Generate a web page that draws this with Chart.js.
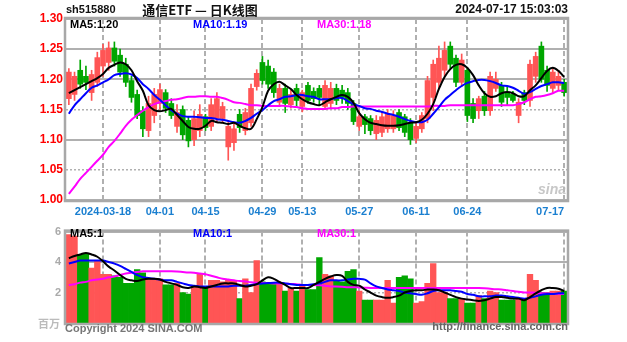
<!DOCTYPE html>
<html>
<head>
<meta charset="utf-8">
<script src="https://cdn.jsdelivr.net/npm/chart.js"></script>
<style>
  body { margin: 0; background: #fff; width: 627px; height: 342px; overflow: hidden; }
  #k-wrap { position: absolute; left: 0; top: 0; width: 627px; height: 220px; }
  #v-wrap { position: absolute; left: 0; top: 220px; width: 627px; height: 122px; }
</style>
</head>
<body>
<div id="k-wrap"><canvas id="k-chart" width="627" height="220"></canvas></div>
<div id="v-wrap"><canvas id="v-chart" width="627" height="122"></canvas></div>
<script>
// trading days 2024-03-08 .. 2024-07-17
var dates = [
  '03-08','03-11','03-12','03-13','03-14','03-15','03-18','03-19','03-20','03-21','03-22','03-25','03-26','03-27','03-28','03-29',
  '04-01','04-02','04-03','04-08','04-09','04-10','04-11','04-12','04-15','04-16','04-17','04-18','04-19','04-22','04-23','04-24','04-25','04-26','04-29','04-30',
  '05-06','05-07','05-08','05-09','05-10','05-13','05-14','05-15','05-16','05-17','05-20','05-21','05-22','05-23','05-24','05-27','05-28','05-29','05-30','05-31',
  '06-03','06-04','06-05','06-06','06-07','06-11','06-12','06-13','06-14','06-17','06-18','06-19','06-20','06-21','06-24','06-25','06-26','06-27','06-28',
  '07-01','07-02','07-03','07-04','07-05','07-08','07-09','07-10','07-11','07-12','07-15','07-16','07-17'
];
var shownDates = { '03-18': '2024-03-18', '04-01': '04-01', '04-15': '04-15', '04-29': '04-29', '05-13': '05-13',
                   '05-27': '05-27', '06-11': '06-11', '06-24': '06-24', '07-17': '07-17' };

var openP = [1.168,1.175,1.215,1.205,1.178,1.195,1.222,1.228,1.252,1.240,1.225,1.198,1.175,1.148,1.115,1.140,
  1.160,1.178,1.160,1.122,1.150,1.132,1.100,1.115,1.138,1.122,1.135,1.135,1.088,1.095,1.142,1.115,1.128,1.188,1.228,1.222,
  1.212,1.162,1.185,1.158,1.185,1.155,1.190,1.180,1.185,1.155,1.160,1.185,1.182,1.178,1.160,1.122,1.138,1.135,1.110,1.112,
  1.118,1.118,1.145,1.138,1.128,1.102,1.118,1.135,1.170,1.195,1.215,1.255,1.235,1.195,1.215,1.160,1.148,1.172,1.148,
  1.185,1.190,1.178,1.175,1.140,1.178,1.165,1.205,1.255,1.215,1.185,1.190,1.195];
var highP = [1.218,1.212,1.232,1.222,1.215,1.245,1.258,1.262,1.262,1.250,1.235,1.205,1.182,1.155,1.172,1.185,
  1.192,1.183,1.168,1.158,1.156,1.138,1.148,1.158,1.142,1.168,1.178,1.162,1.132,1.128,1.150,1.152,1.192,1.216,1.238,1.232,
  1.218,1.192,1.192,1.182,1.192,1.182,1.195,1.186,1.190,1.198,1.195,1.192,1.190,1.185,1.165,1.148,1.142,1.140,1.140,1.145,
  1.150,1.148,1.150,1.142,1.135,1.130,1.145,1.205,1.232,1.255,1.262,1.262,1.240,1.242,1.220,1.168,1.172,1.180,1.212,
  1.212,1.195,1.188,1.180,1.168,1.182,1.232,1.245,1.262,1.222,1.218,1.215,1.200];
var lowP = [1.158,1.165,1.185,1.183,1.165,1.188,1.205,1.215,1.222,1.205,1.188,1.162,1.135,1.105,1.105,1.128,
  1.150,1.145,1.135,1.112,1.100,1.088,1.090,1.105,1.115,1.115,1.128,1.128,1.066,1.082,1.112,1.108,1.122,1.182,1.192,1.185,
  1.170,1.155,1.145,1.152,1.155,1.146,1.160,1.162,1.158,1.150,1.152,1.158,1.160,1.150,1.125,1.115,1.110,1.108,1.100,1.105,
  1.112,1.112,1.115,1.105,1.092,1.095,1.112,1.128,1.148,1.185,1.205,1.218,1.188,1.188,1.130,1.128,1.135,1.140,1.140,
  1.180,1.155,1.158,1.162,1.128,1.158,1.155,1.195,1.195,1.180,1.178,1.182,1.172];
var closeP = [1.212,1.205,1.192,1.195,1.208,1.236,1.248,1.252,1.230,1.212,1.195,1.170,1.140,1.118,1.160,1.175,
  1.183,1.152,1.140,1.145,1.108,1.098,1.135,1.142,1.120,1.158,1.168,1.155,1.122,1.118,1.120,1.145,1.185,1.210,1.198,1.192,
  1.178,1.185,1.160,1.175,1.165,1.178,1.165,1.168,1.170,1.190,1.185,1.165,1.170,1.160,1.130,1.138,1.125,1.115,1.132,1.138,
  1.142,1.140,1.120,1.112,1.100,1.122,1.140,1.198,1.225,1.235,1.248,1.225,1.195,1.232,1.140,1.135,1.168,1.148,1.205,
  1.200,1.162,1.170,1.165,1.162,1.165,1.225,1.238,1.200,1.190,1.212,1.205,1.178];

var ma5 = [1.177,1.182,1.187,1.192,1.197,1.202,1.209,1.219,1.224,1.228,1.225,1.215,1.197,1.181,1.157,1.149,
  1.147,1.149,1.151,1.141,1.131,1.121,1.118,1.118,1.123,1.131,1.129,1.128,1.126,1.128,1.123,1.119,1.118,1.134,1.154,1.181,
  1.192,1.196,1.190,1.184,1.174,1.167,1.162,1.159,1.157,1.162,1.167,1.171,1.174,1.171,1.161,1.144,1.134,1.128,1.126,1.124,
  1.123,1.123,1.124,1.126,1.128,1.129,1.133,1.143,1.159,1.184,1.204,1.217,1.224,1.225,1.219,1.207,1.190,1.177,1.171,
  1.172,1.177,1.179,1.177,1.172,1.172,1.182,1.190,1.202,1.214,1.219,1.214,1.204];
var ma10 = [1.143,1.157,1.167,1.177,1.186,1.190,1.195,1.200,1.207,1.209,1.210,1.208,1.202,1.192,1.184,1.174,
  1.166,1.157,1.149,1.143,1.139,1.138,1.138,1.137,1.136,1.136,1.134,1.133,1.131,1.129,1.128,1.131,1.136,1.143,1.149,1.157,
  1.164,1.167,1.171,1.172,1.174,1.174,1.172,1.171,1.167,1.167,1.167,1.169,1.169,1.164,1.159,1.156,1.152,1.151,1.148,1.146,
  1.143,1.141,1.138,1.134,1.131,1.129,1.129,1.133,1.143,1.154,1.166,1.174,1.182,1.189,1.194,1.197,1.199,1.199,1.197,
  1.194,1.190,1.189,1.186,1.181,1.176,1.179,1.184,1.189,1.192,1.195,1.195,1.194];
var ma30 = [1.010,1.022,1.035,1.045,1.055,1.065,1.075,1.088,1.098,1.110,1.123,1.133,1.141,1.148,1.154,1.159,
  1.162,1.164,1.166,1.167,1.169,1.171,1.171,1.172,1.172,1.171,1.171,1.169,1.166,1.162,1.161,1.159,1.157,1.157,1.156,1.156,
  1.156,1.156,1.156,1.155,1.154,1.152,1.151,1.151,1.151,1.151,1.152,1.152,1.154,1.154,1.155,1.155,1.155,1.155,1.155,1.155,
  1.155,1.155,1.155,1.155,1.155,1.155,1.155,1.155,1.156,1.156,1.156,1.157,1.157,1.157,1.157,1.157,1.157,1.157,1.157,
  1.157,1.157,1.157,1.157,1.159,1.162,1.167,1.171,1.172,1.174,1.177,1.181,1.181];

// volume, millions
var volume = [5.8,5.7,4.5,4.5,3.6,4.1,3.2,3.2,3.1,3.0,2.6,2.6,3.5,3.3,2.9,2.9,
  2.9,2.5,2.5,2.6,2.0,1.9,2.4,3.2,2.3,2.8,2.8,2.7,2.8,2.8,1.6,2.9,2.0,4.1,2.7,2.6,
  2.6,2.6,2.1,2.3,2.1,2.4,2.2,2.2,4.3,3.2,3.1,2.8,2.7,3.4,3.5,2.1,1.5,1.5,1.5,1.5,
  2.8,1.3,3.0,3.1,2.9,1.3,1.4,2.6,3.9,2.0,2.0,1.6,1.6,1.6,1.3,1.3,1.8,1.6,2.1,
  2.0,1.5,1.5,1.5,1.6,1.5,3.2,2.8,2.0,2.0,2.1,2.1,2.1];
var volMa5 = [4.25,4.4,4.5,4.6,4.5,4.35,4.05,3.7,3.45,3.15,2.9,2.8,2.75,2.85,2.9,2.9,
  2.85,2.7,2.6,2.5,2.35,2.3,2.4,2.35,2.3,2.4,2.5,2.6,2.6,2.6,2.5,2.4,2.45,2.55,2.8,3.0,
  2.9,2.7,2.5,2.3,2.3,2.3,2.3,2.5,2.7,2.9,3.05,3.15,3.1,2.7,2.5,2.45,2.2,2.0,1.8,1.7,
  1.65,1.7,1.8,2.0,2.1,2.15,2.15,2.2,2.2,2.15,2.0,1.85,1.7,1.6,1.55,1.5,1.45,1.5,1.6,
  1.7,1.7,1.65,1.6,1.6,1.5,1.7,1.95,2.15,2.3,2.3,2.25,2.1];
var volMa10 = [3.9,4.0,4.1,4.1,4.1,4.1,4.1,4.0,3.9,3.75,3.55,3.35,3.15,3.0,2.95,2.9,
  2.85,2.8,2.8,2.7,2.6,2.5,2.45,2.4,2.4,2.4,2.4,2.4,2.4,2.45,2.45,2.45,2.5,2.55,2.6,2.62,
  2.65,2.65,2.6,2.55,2.5,2.5,2.5,2.55,2.6,2.7,2.8,2.8,2.8,2.85,2.9,2.9,2.85,2.6,2.4,2.3,
  2.2,2.15,2.1,2.0,1.95,1.9,1.85,1.95,2.1,2.15,2.15,2.15,2.1,2.05,1.9,1.85,1.75,1.75,1.75,
  1.8,1.8,1.75,1.7,1.65,1.6,1.65,1.75,1.85,1.9,1.9,1.95,1.95];
var volMa30 = [2.5,2.55,2.65,2.7,2.8,2.85,2.9,3.0,3.05,3.15,3.25,3.3,3.35,3.4,3.4,3.4,
  3.4,3.4,3.4,3.38,3.35,3.32,3.3,3.25,3.2,3.1,3.0,2.9,2.85,2.8,2.75,2.72,2.68,2.65,2.63,2.62,
  2.6,2.6,2.58,2.56,2.55,2.5,2.5,2.5,2.48,2.45,2.4,2.4,2.38,2.35,2.35,2.33,2.32,2.3,2.3,2.3,
  2.3,2.3,2.3,2.3,2.3,2.3,2.3,2.3,2.3,2.3,2.3,2.3,2.3,2.3,2.3,2.3,2.3,2.28,2.25,
  2.22,2.2,2.15,2.1,2.05,2.0,2.0,1.98,1.95,1.95,1.92,1.9,1.9];

var priceTicks = [1.00, 1.05, 1.10, 1.15, 1.20, 1.25, 1.30];
var volTicks = [2, 4, 6];
// legend labels as printed on the picture
var volLegend = ['MA5:1', 'MA10:1', 'MA30:1'];

var UP = '#ff5555', DOWN = '#00a600', GRID = '#b0b0b0';
var FONT = "'Liberation Sans', Arial, sans-serif";
var candleColor = openP.map(function (o, i) { return closeP[i] >= o ? UP : DOWN; });

// border around plot area
var frame = {
  id: 'frame',
  afterDatasetsDraw: function (chart) {
    var a = chart.chartArea, c = chart.ctx;
    c.save();
    c.strokeStyle = '#a8a8a8';
    c.lineWidth = 2.5;
    c.strokeRect(a.left - 1, a.top - 1, a.right - a.left + 2, a.bottom - a.top + 2);
    c.restore();
  }
};

function drawText(c, txt, x, y, color, font, align) {
  c.font = font;
  c.fillStyle = color;
  c.textAlign = align || 'left';
  c.textBaseline = 'middle';
  c.fillText(txt, x, y);
}

var kTexts = {
  id: 'kTexts',
  afterDraw: function (chart) {
    var c = chart.ctx;
    c.save();
    drawText(c, 'sh515880', 66, 10, '#111', 'bold 11px ' + FONT);
    drawText(c, '通信ETF — 日K线图', 200, 10, '#111', "bold 13px 'Noto Sans CJK SC', sans-serif", 'center');
    drawText(c, '2024-07-17 15:03:03', 568, 10, '#111', 'bold 12px ' + FONT, 'right');
    drawText(c, 'MA5:' + ma5[ma5.length - 1].toFixed(2), 70, 25, '#000', 'bold 11px ' + FONT);
    drawText(c, 'MA10:' + ma10[ma10.length - 1].toFixed(2), 193, 25, '#0000ff', 'bold 11px ' + FONT);
    drawText(c, 'MA30:' + ma30[ma30.length - 1].toFixed(2), 317, 25, '#ff00ff', 'bold 11px ' + FONT);
    drawText(c, 'sina', 552, 190, 'rgba(185,185,185,0.8)', 'italic bold 14px ' + FONT, 'center');
    c.restore();
  }
};

var vTexts = {
  id: 'vTexts',
  afterDraw: function (chart) {
    var c = chart.ctx;
    c.save();
    drawText(c, volLegend[0], 70, 14, '#000', 'bold 11px ' + FONT);
    drawText(c, volLegend[1], 193, 14, '#0000ff', 'bold 11px ' + FONT);
    drawText(c, volLegend[2], 317, 14, '#ff00ff', 'bold 11px ' + FONT);
    drawText(c, '百万', 60, 104, '#bbbbbb', "bold 11px 'Noto Sans CJK SC', sans-serif", 'right');
    drawText(c, 'Copyright 2024 SINA.COM', 65, 109, '#777', 'bold 11px ' + FONT);
    drawText(c, 'http://finance.sina.com.cn', 568, 107, '#666', 'bold 11px ' + FONT, 'right');
    c.restore();
  }
};

function xGrid(ctx) {
  var d = dates[ctx.index];
  return shownDates[d] ? GRID : 'rgba(0,0,0,0)';
}

function xScale(showLabels, height) {
  return {
    offset: true,
    grid: { offset: false, color: xGrid, lineWidth: 2, drawTicks: false },
    border: { display: false, dash: [5, 3] },
    ticks: {
      display: showLabels,
      autoSkip: false,
      maxRotation: 0,
      align: 'inner',
      padding: 5,
      color: '#1a7fd0',
      font: { family: FONT, size: 11, weight: 'bold' },
      callback: function (v, i) { return shownDates[dates[i]] || ''; }
    },
    afterFit: function (s) { s.height = height; }
  };
}

new Chart(document.getElementById('k-chart'), {
  type: 'bar',
  data: {
    labels: dates,
    datasets: [
      { type: 'line', data: ma5, borderColor: '#000', borderWidth: 2, pointRadius: 0, tension: 0.35, order: 0 },
      { type: 'line', data: ma10, borderColor: '#0000ff', borderWidth: 2, pointRadius: 0, tension: 0.35, order: 0 },
      { type: 'line', data: ma30, borderColor: '#ff00ff', borderWidth: 2, pointRadius: 0, tension: 0.35, order: 0 },
      { data: openP.map(function (o, i) { return [o, closeP[i]]; }), backgroundColor: candleColor,
        barThickness: 5, grouped: false, minBarLength: 1, order: 1 },
      { data: lowP.map(function (l, i) { return [l, highP[i]]; }), backgroundColor: candleColor,
        barThickness: 1, grouped: false, order: 2 }
    ]
  },
  options: {
    responsive: false,
    animation: false,
    layout: { padding: { top: 19, right: 60, left: 0, bottom: 0 } },
    plugins: { legend: { display: false }, tooltip: { enabled: false } },
    scales: {
      x: xScale(true, 20),
      y: {
        min: 1.0, max: 1.3,
        afterBuildTicks: function (s) { s.ticks = priceTicks.map(function (v) { return { value: v }; }); },
        grid: {
          drawTicks: false,
          color: GRID,
          lineWidth: function (ctx) { var k = Math.round(ctx.tick.value * 100); return (k === 115 || k === 105) ? 1.5 : 2; }
        },
        border: {
          display: false,
          dash: function (ctx) { var k = Math.round(ctx.tick.value * 100); return (k === 115 || k === 105) ? [2, 2] : []; }
        },
        ticks: {
          padding: 3,
          color: '#ff0000',
          font: { family: FONT, size: 12, weight: 'bold' },
          callback: function (v) { return v.toFixed(2); }
        },
        afterFit: function (s) { s.width = 66; }
      }
    }
  },
  plugins: [frame, kTexts]
});

new Chart(document.getElementById('v-chart'), {
  type: 'bar',
  data: {
    labels: dates,
    datasets: [
      { type: 'line', data: volMa5, borderColor: '#000', borderWidth: 2, pointRadius: 0, tension: 0.35, order: 0 },
      { type: 'line', data: volMa10, borderColor: '#0000ff', borderWidth: 2, pointRadius: 0, tension: 0.35, order: 0 },
      { type: 'line', data: volMa30, borderColor: '#ff00ff', borderWidth: 2, pointRadius: 0, tension: 0.35, order: 0 },
      { data: volume, backgroundColor: candleColor, barPercentage: 1, categoryPercentage: 1, order: 1 }
    ]
  },
  options: {
    responsive: false,
    animation: false,
    layout: { padding: { top: 7, right: 60, left: 0, bottom: 0 } },
    plugins: { legend: { display: false }, tooltip: { enabled: false } },
    scales: {
      x: xScale(false, 19),
      y: {
        min: 0, max: 6,
        afterBuildTicks: function (s) { s.ticks = volTicks.map(function (v) { return { value: v }; }); },
        grid: {
          drawTicks: false,
          color: GRID,
          lineWidth: function (ctx) { return ctx.tick.value === 2 ? 1.5 : 2; }
        },
        border: {
          display: false,
          dash: function (ctx) { return ctx.tick.value === 2 ? [2, 2] : []; }
        },
        ticks: {
          padding: 5,
          color: '#aaaaaa',
          font: { family: FONT, size: 11, weight: 'bold' }
        },
        afterFit: function (s) { s.width = 66; }
      }
    }
  },
  plugins: [frame, vTexts]
});
</script>
</body>
</html>
